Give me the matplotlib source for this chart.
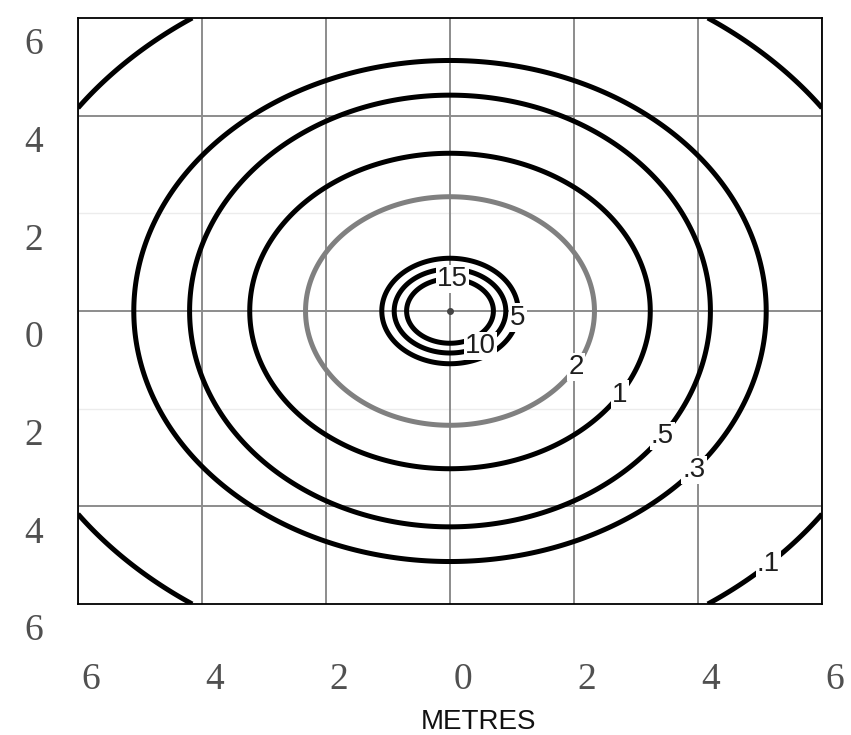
import numpy as np
import matplotlib
matplotlib.use('Agg')
import matplotlib.pyplot as plt
from matplotlib.transforms import ScaledTranslation

# ---- data ----
level_labels = ['15', '10', '5', '2', '1', '.5', '.3', '.1']
level_values = [15, 10, 5, 2, 1, 0.5, 0.3, 0.1]
radius_x = [0.70, 0.90, 1.10, 2.33, 3.23, 4.20, 5.10, 7.30]   # metres, across
radius_y = [0.66, 0.86, 1.08, 2.34, 3.23, 4.42, 5.13, 7.30]   # metres, along
line_colors = ['black', 'black', 'black', '#808080', 'black', 'black', 'black', 'black']
label_pos = [(0.03, 0.51), (0.48, -0.68), (1.21, -0.16), (2.13, -1.23),
             (2.77, -1.74), (3.42, -2.55), (3.95, -3.28), (5.16, -5.23)]
source = (0.0, 0.0)

xticks = [-6, -4, -2, 0, 2, 4, 6]
xticklabels = ['6', '4', '2', '0', '2', '4', '6']
yticks = [6, 4, 2, 0, -2, -4, -6]
yticklabels = ['6', '4', '2', '0', '2', '4', '6']
major_h_grid = [-4, 0, 4]
faint_h_grid = [-2, 2]

# ---- figure ----
W, H, DPI = 851, 735, 100
fig = plt.figure(figsize=(W / DPI, H / DPI), dpi=DPI)
ax = fig.add_axes([78 / W, (H - 604) / H, 744 / W, 586 / H])

x = np.linspace(-6, 6, 901)
y = np.linspace(-6, 6, 901)
X, Y = np.meshgrid(x, y)

# grid
ax.set_xticks(xticks)
ax.set_xticklabels(xticklabels)
ax.set_yticks(yticks)
ax.set_yticklabels(yticklabels)
ax.grid(axis='x', color='#8c8c8c', lw=1.4, zorder=0)
for h in major_h_grid:
    ax.axhline(h, color='#8c8c8c', lw=1.4, zorder=0)
for h in faint_h_grid:
    ax.axhline(h, color='#ececec', lw=1.0, zorder=0)

texts = []
for lab, rx, ry, col, pos in zip(level_labels, radius_x, radius_y, line_colors, label_pos):
    F = np.hypot((X - source[0]) / rx, (Y - source[1]) / ry)
    cs = ax.contour(X, Y, F, levels=[1.0], colors=[col], linewidths=3.6, zorder=2)
    texts += ax.clabel(cs, fmt={1.0: lab}, inline=False, manual=[pos], fontsize=20)

for t in texts:
    t.set_rotation(0)
    t.set_color('#1e1e1e')
    t.set_fontfamily('Liberation Sans')
    t.set_bbox(dict(facecolor='white', edgecolor='none', pad=0.8))
    t.set_zorder(5)

ax.plot([source[0]], [source[1]], 'o', ms=4, color='#444444', zorder=4)

ax.set_xlim(-6, 6)
ax.set_ylim(-6, 6)

for s in ax.spines.values():
    s.set_color('black')
    s.set_linewidth(1.3)

ax.tick_params(axis='both', length=0, labelsize=27, labelcolor='#505050')
ax.tick_params(axis='x', pad=42)
ax.tick_params(axis='y', pad=25)
for lab in ax.get_xticklabels() + ax.get_yticklabels():
    lab.set_fontfamily('Liberation Serif')
for lab in ax.get_xticklabels():
    lab.set_transform(lab.get_transform() + ScaledTranslation(13 / DPI, 0, fig.dpi_scale_trans))
for lab in ax.get_yticklabels():
    lab.set_transform(lab.get_transform() + ScaledTranslation(0, -23 / DPI, fig.dpi_scale_trans))

ax.set_xlabel('METRES', fontsize=20, family='Liberation Sans', color='#111111')
ax.xaxis.set_label_coords(0.538, -0.2135)
ax.xaxis.label.set_verticalalignment('baseline')

fig.savefig('out.png', dpi=DPI)
